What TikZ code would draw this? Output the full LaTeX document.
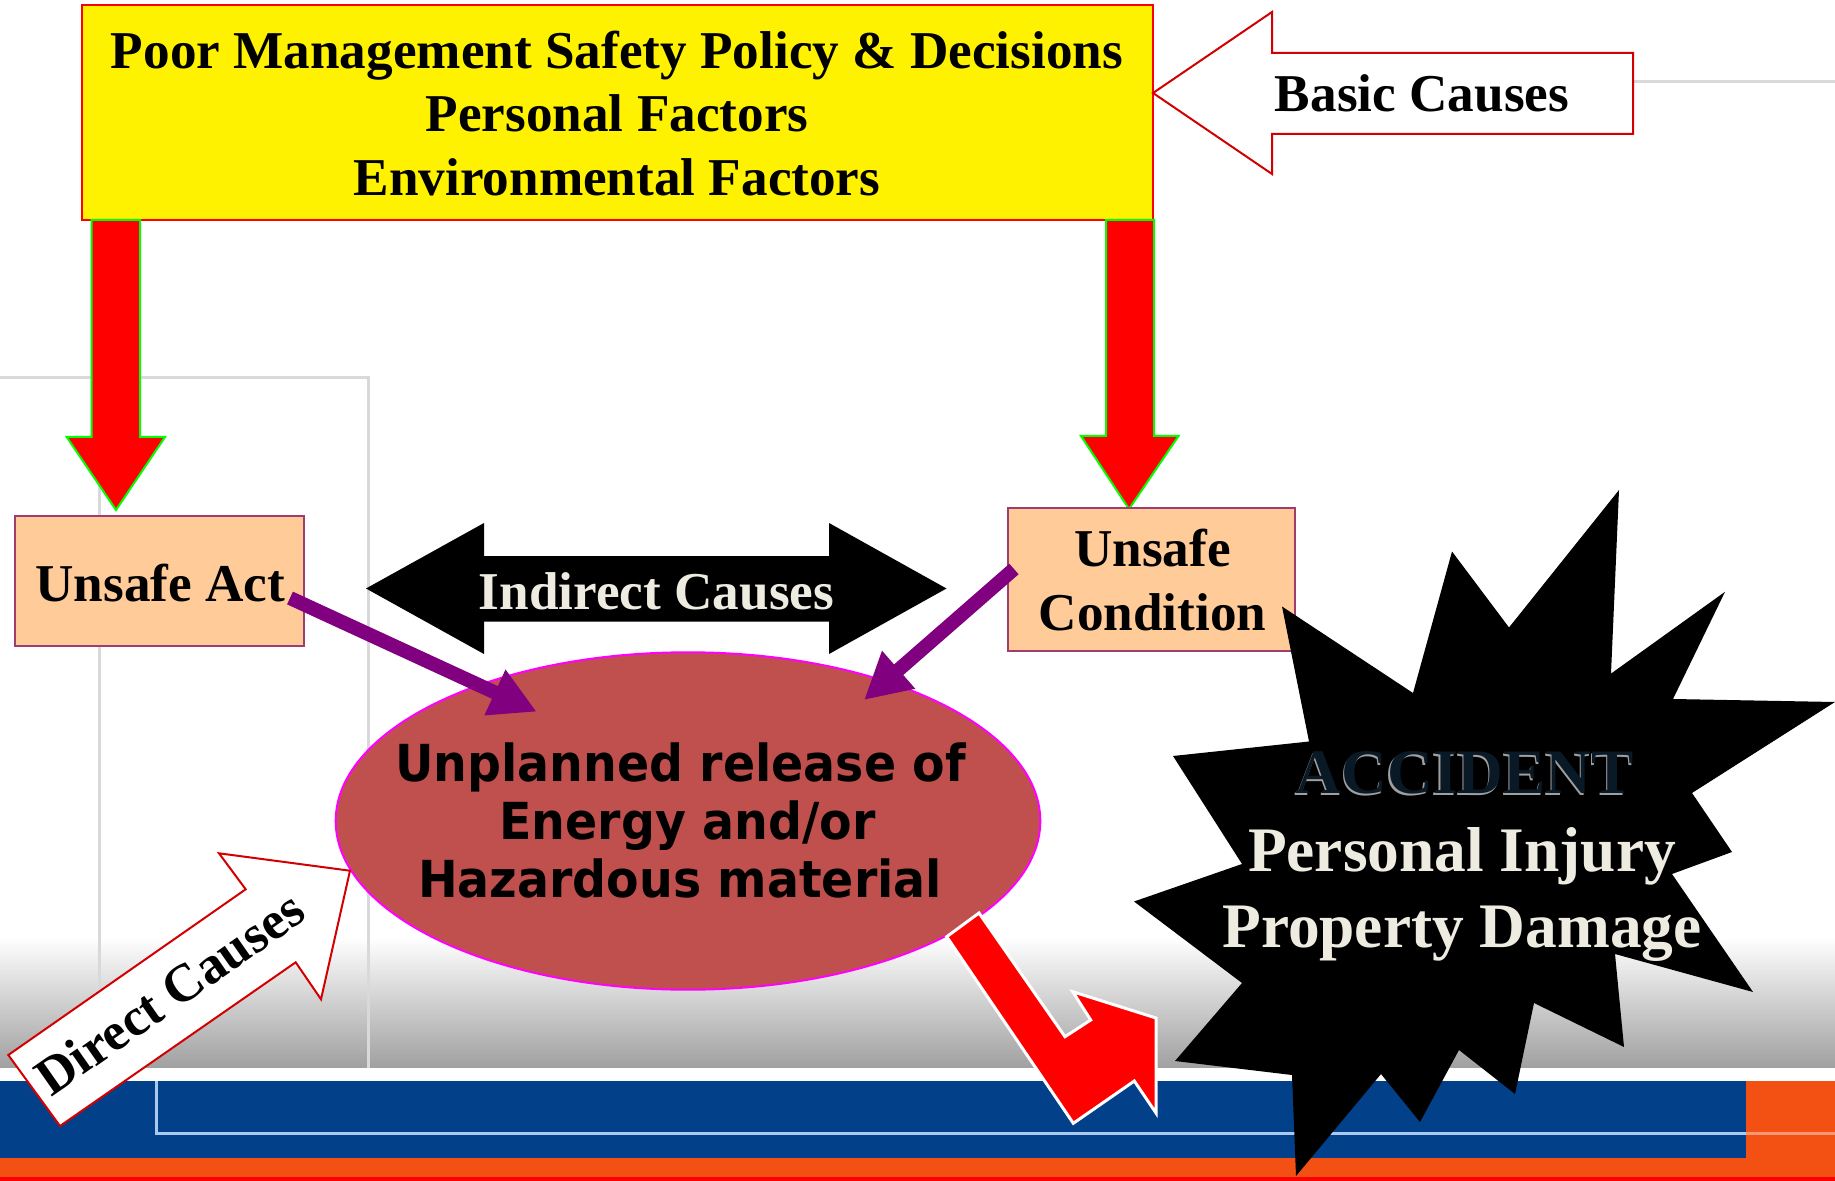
\documentclass[tikz,border=0pt]{standalone}
\usepackage{fontspec}
\setmainfont{Liberation Serif}
\newfontfamily\tahfont[FakeStretch=0.93]{DejaVu Sans}
\usetikzlibrary{arrows.meta,shapes.geometric}
\definecolor{peach}{RGB}{255,204,153}
\definecolor{boxedge}{RGB}{160,60,110}
\definecolor{ellfill}{RGB}{192,80,77}
\definecolor{magentaedge}{RGB}{255,0,255}
\definecolor{purp}{RGB}{128,0,128}
\definecolor{cream}{RGB}{238,236,225}
\definecolor{bandblue}{RGB}{2,65,137}
\definecolor{bandorange}{RGB}{243,80,20}
\definecolor{lightline}{RGB}{170,200,240}
\definecolor{gridgray}{RGB}{217,217,217}
\definecolor{accnavy}{RGB}{10,25,38}
\definecolor{accglow}{RGB}{160,160,160}
\definecolor{shadegray}{RGB}{160,160,160}
\definecolor{outlinered}{RGB}{210,0,0}
\begin{document}
\begin{tikzpicture}[x=0.5pt,y=-0.5pt,
  lbl/.style={font=\bfseries\fontsize{26.6}{32}\selectfont, inner sep=0, anchor=base},
  biglbl/.style={font=\bfseries\fontsize{31.7}{38}\selectfont, inner sep=0, anchor=base},
  elllbl/.style={font=\tahfont\bfseries\fontsize{25.5}{30}\selectfont, inner sep=0, anchor=base},
  causebox/.style={draw=boxedge, fill=peach, line width=1pt, inner sep=0},
  fatred/.style={fill=red, draw=green, line width=1pt},
  purparrow/.style={purp, line width=7pt, -{Triangle[length=23pt,width=23.5pt]}},
  gridline/.style={gridgray, line width=1.5pt}]
\useasboundingbox (0,0) rectangle (1835,1181);
% background
\fill[white] (0,0) rectangle (1835,1181);
\shade[top color=white,bottom color=shadegray] (0,937) rectangle (1835,1068);
\fill[white] (0,1068) rectangle (1835,1081);
\fill[bandblue] (0,1081) rectangle (1835,1158);
\fill[bandorange] (1746,1081) rectangle (1835,1158);
\fill[bandorange] (0,1158) rectangle (1835,1177);
\fill[red] (0,1177) rectangle (1835,1181);
\draw[lightline, line width=1.5pt] (156,1081) -- (156,1133) -- (1746,1133);
\draw[white, opacity=0.4, line width=1.5pt] (1746,1133) -- (1835,1133);
\draw[gridline] (0,378) -- (368,378) -- (368,1068);
\draw[gridline] (99,378) -- (99,1068);
\draw[gridline] (1633,82) -- (1835,82);

% basic causes box
\node[draw=red, fill=yellow, line width=1pt, minimum width=535.5pt, minimum height=107.5pt, inner sep=0] (basic) at (617.5,112.5) {};
\node[lbl] (b1) at (617,69) {Poor Management Safety Policy \& Decisions};
\node[lbl] (b2) at (617,132) {Personal Factors};
\node[lbl] (b3) at (617,196) {Environmental Factors};

% basic causes arrow
\draw[draw=outlinered, fill=white, line width=1pt] (1153,93) -- (1272,12) -- (1272,53) -- (1633,53) -- (1633,134) -- (1272,134) -- (1272,174) -- cycle;
\node[lbl] (basiclbl) at (1422,112) {Basic Causes};

% red down arrows
\draw[fatred] (91.7,220) -- (91.7,437) -- (66.7,437) -- (116,510) -- (165,437) -- (140,437) -- (140,220) -- cycle;
\draw[fatred] (1106,220) -- (1106,436) -- (1081,436) -- (1129,509) -- (1178.5,436) -- (1154,436) -- (1154,220) -- cycle;

% unsafe boxes
\node[causebox, minimum width=144.65pt, minimum height=65pt] (act) at (159.7,580.7) {};
\node[lbl] (actlbl) at (160.4,601.7) {Unsafe Act};
\node[causebox, minimum width=143.95pt, minimum height=71.4pt] (cond) at (1151.5,579.6) {};
\node[lbl] (cond1) at (1152.5,567) {Unsafe};
\node[lbl] (cond2) at (1152.5,630) {Condition};

% indirect causes double arrow
\fill[black] (366,588.5) -- (484,523) -- (484,556) -- (829,556) -- (829,523) -- (946.5,588.5) -- (829,654) -- (829,621.5) -- (484,621.5) -- (484,654) -- cycle;
\node[lbl, text=cream] (indlbl) at (656.5,609.3) {Indirect Causes};

% ellipse
\node[ellipse, draw=magentaedge, fill=ellfill, line width=1pt, minimum width=352.3pt, minimum height=168.7pt, inner sep=0] (ell) at (688,821) {};
\node[elllbl] (e1) at (680.5,781) {Unplanned release of};
\node[elllbl] (e2) at (687.5,839) {Energy and/or};
\node[elllbl] (e3) at (680,897) {Hazardous material};

% purple arrows
\coordinate (pa1s) at (290,598);
\coordinate (pa1e) at (536.7,711.7);
\coordinate (pa2s) at (1014,569);
\coordinate (pa2e) at (864,700);
\draw[purparrow] (pa1s) -- (pa1e);
\draw[purparrow] (pa2s) -- (pa2e);

% bent red arrow
\draw[fill=red, draw=white, line width=1.5pt] (946.7,936.7) -- (979,913) -- (1065,1036.7) -- (1090.7,1020) -- (1072.7,991.7) -- (1156,1018) -- (1156,1113) -- (1134.3,1081) -- (1073.3,1123.3) -- cycle;

% starburst
\fill[black] (1619,490) -- (1611,673.6) -- (1725,591.8) -- (1673,699) -- (1835,702) -- (1692,793) -- (1732,852) -- (1672,874) -- (1753,992) -- (1615,954) -- (1624,1047) -- (1534,1003) -- (1515,1094) -- (1459,1050) -- (1420,1122) -- (1381,1074) -- (1296,1176) -- (1292,1075) -- (1175,1061) -- (1242,983) -- (1134,901.5) -- (1242,864) -- (1173,756) -- (1309,741.5) -- (1282,606.5) -- (1413,693) -- (1452,551.5) -- (1509,627.5) -- cycle;
\node[biglbl, text=accglow] (accsh) at (1463.5,795) {ACCIDENT};
\node[biglbl, text=accnavy] (acc) at (1465,793) {ACCIDENT};
\node[biglbl, text=cream] (inj) at (1462,871) {Personal Injury};
\node[biglbl, text=cream] (dmg) at (1462,947) {Property Damage};

% direct causes arrow
\draw[draw=outlinered, fill=white, line width=1pt] (8.3,1055) -- (245.7,889.3) -- (219,853.3) -- (350,870.7) -- (321,999.3) -- (295.7,962.3) -- (60,1126) -- cycle;
\node[lbl, rotate=35] (dclbl) at (180,1008) {Direct Causes};
\end{tikzpicture}
\end{document}
